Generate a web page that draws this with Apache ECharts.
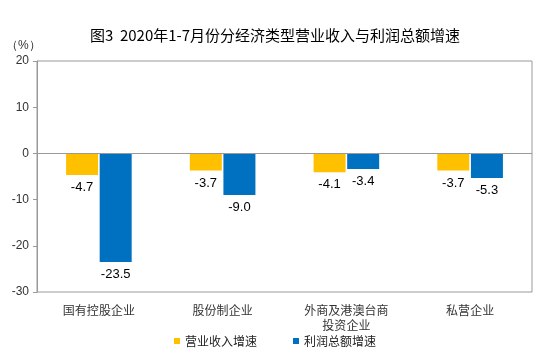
<!DOCTYPE html>
<html><head><meta charset="utf-8">
<script src="https://cdn.jsdelivr.net/npm/echarts@6/dist/echarts.min.js"></script>
<style>html,body{margin:0;padding:0;background:#fff}#c{width:550px;height:360px}</style>
</head><body><div id="c"></div>
<script>
var titleText = '图3  2020年1-7月份分经济类型营业收入与利润总额增速';
var categories = ['国有控股企业', '股份制企业', '外商及港澳台商\n投资企业', '私营企业'];
var seriesNames = ['营业收入增速', '利润总额增速'];
var revenueGrowth = [-4.7, -3.7, -4.1, -3.7];
var profitGrowth = [-23.5, -9.0, -3.4, -5.3];
var yTicks = {min: -30, max: 20, interval: 10};
var unitLabel = '（%）';

var font = "'Liberation Sans', 'Noto Sans CJK SC', sans-serif";
var chart = echarts.init(document.getElementById('c'));
var labelCfg = {
  show: true, position: 'bottom', distance: 6, color: '#000', fontSize: 13, fontFamily: font,
  formatter: function (p) { return p.value.toFixed(1); }
};
chart.setOption({
  animation: false,
  title: {
    text: titleText, left: 'center', top: 23,
    textStyle: {fontSize: 15, fontWeight: 'normal', color: '#000', fontFamily: "'Noto Sans CJK SC', sans-serif"}
  },
  graphic: [{type: 'text', left: 6, top: 40, style: {text: unitLabel, fontSize: 12, fill: '#333', font: "12px 'Noto Sans CJK SC'"}}],
  legend: {
    bottom: 8, left: 'center', itemWidth: 6, itemHeight: 6, itemGap: 36, icon: 'rect',
    textStyle: {fontSize: 12, color: '#222', fontFamily: "'Noto Sans CJK SC', sans-serif"},
    data: seriesNames
  },
  grid: {left: 37, right: 18, top: 61, bottom: 68, show: true, borderColor: '#999', borderWidth: 1, backgroundColor: 'transparent'},
  xAxis: {
    type: 'category', data: categories, position: 'bottom',
    axisLine: {show: false, onZero: false}, axisTick: {show: false},
    axisLabel: {fontSize: 12, color: '#333', margin: 11, lineHeight: 15, fontFamily: "'Noto Sans CJK SC', sans-serif"}
  },
  yAxis: {
    type: 'value', min: yTicks.min, max: yTicks.max, interval: yTicks.interval,
    axisLine: {show: true, lineStyle: {color: '#999'}},
    axisTick: {show: true, length: 4, lineStyle: {color: '#999'}},
    splitLine: {show: false},
    axisLabel: {fontSize: 12, color: '#333', margin: 8, fontFamily: font}
  },
  series: [
    {
      name: seriesNames[0], type: 'bar', data: revenueGrowth, barWidth: 32, barGap: '5%',
      itemStyle: {color: '#FFC000'}, label: labelCfg,
      markLine: {silent: true, symbol: 'none', label: {show: false}, lineStyle: {color: '#999', type: 'solid', width: 1}, data: [{yAxis: 0}]}
    },
    {
      name: seriesNames[1], type: 'bar', data: profitGrowth, barWidth: 32, barGap: '5%',
      itemStyle: {color: '#0070C0'}, label: labelCfg
    }
  ]
});
</script></body></html>
